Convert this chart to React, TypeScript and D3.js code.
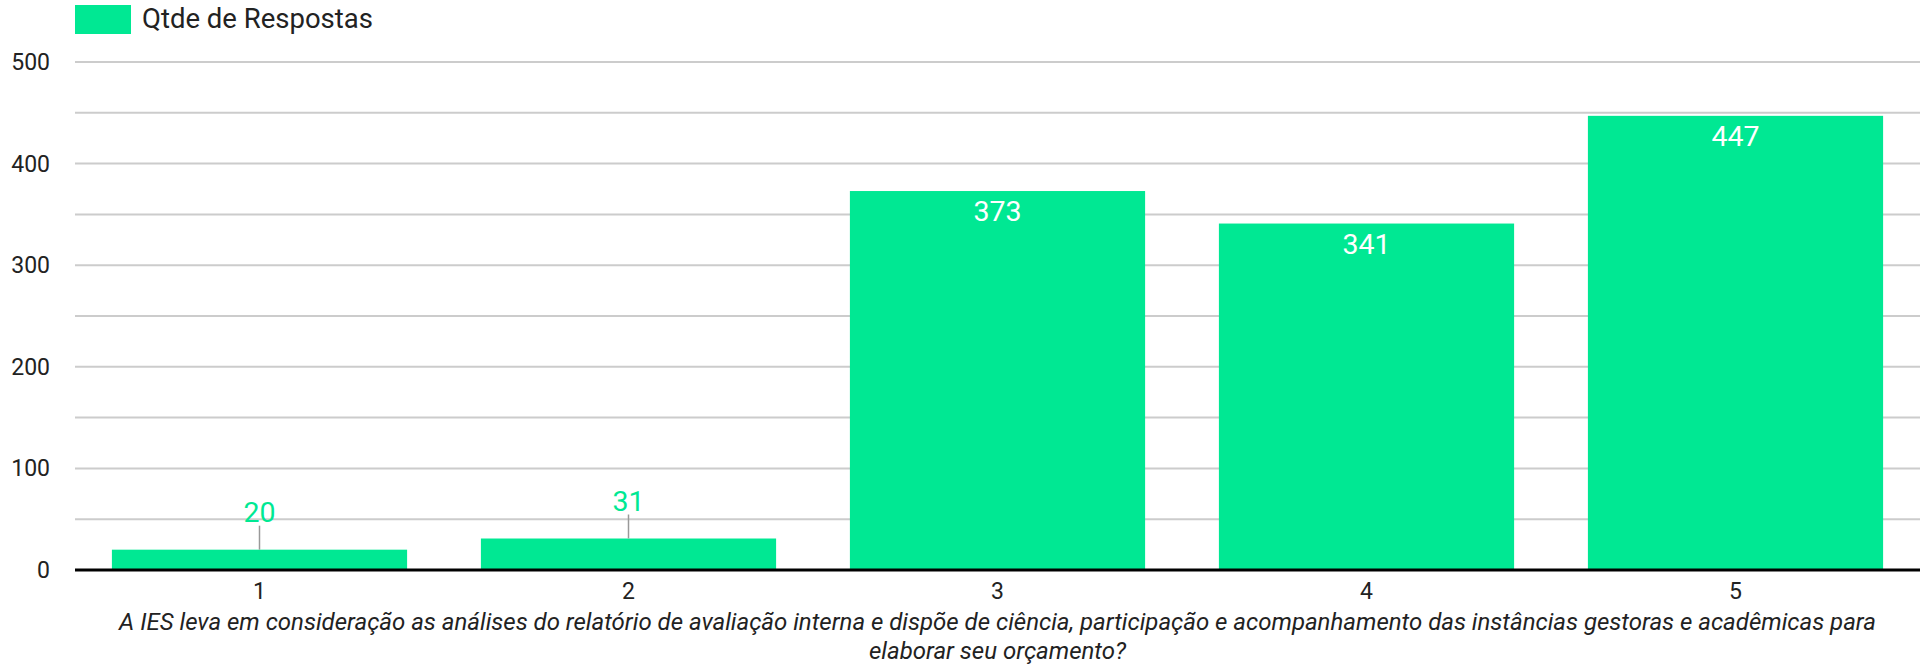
import React from "react";
import * as d3 from "d3";

const categories = ["1", "2", "3", "4", "5"];
const values = [20, 31, 373, 341, 447];
const seriesName = "Qtde de Respostas";
const yTicks = [0, 100, 200, 300, 400, 500];
const yGrid = [50, 100, 150, 200, 250, 300, 350, 400, 450, 500];
const xTitleLines = [
  "A IES leva em consideração as análises do relatório de avaliação interna e dispõe de ciência, participação e acompanhamento das instâncias gestoras e acadêmicas para",
  "elaborar seu orçamento?",
];

const W = 1921;
const H = 667;
const M = { left: 75, right: 1920, top: 62, bottom: 570 };
const GREEN = "#00E893";
const FONT = "Roboto, 'Noto Sans', sans-serif";

export default function App() {
  const x = d3
    .scaleBand<string>()
    .domain(categories)
    .range([M.left, M.right])
    .paddingInner(0.2)
    .paddingOuter(0.1);
  const y = d3.scaleLinear().domain([0, 500]).range([M.bottom, M.top]);
  const cx = (M.left + M.right) / 2;

  return (
    <svg
      width={W}
      height={H}
      style={{ position: "absolute", left: 0, top: 0, display: "block" }}
      fontFamily={FONT}
    >
      <rect x={0} y={0} width={W} height={H} fill="#fff" />
      {/* legend */}
      <rect x={75} y={5} width={56} height={29} fill={GREEN} />
      <text x={142} y={28} fontSize={27.5} fill="#222">
        {seriesName}
      </text>
      {/* grid */}
      {yGrid.map((v) => (
        <line
          key={v}
          x1={M.left}
          x2={M.right}
          y1={y(v)}
          y2={y(v)}
          stroke="#cccccc"
          strokeWidth={2}
        />
      ))}
      {/* y tick labels */}
      {yTicks.map((v) => (
        <text
          key={v}
          x={50}
          y={y(v) + 8}
          fontSize={23}
          textAnchor="end"
          fill="#222"
        >
          {v}
        </text>
      ))}
      {/* bars */}
      {categories.map((c, i) => {
        const v = values[i];
        const bx = x(c)!;
        const bw = x.bandwidth();
        const top = y(v);
        const inside = M.bottom - top > 45;
        const mid = bx + bw / 2;
        return (
          <g key={c}>
            <rect x={bx} y={top} width={bw} height={M.bottom - top} fill={GREEN} />
            {inside ? (
              <text x={mid} y={top + 30} fontSize={28.5} textAnchor="middle" fill="#fff">
                {v}
              </text>
            ) : (
              <g>
                <line x1={mid} x2={mid} y1={top - 24} y2={top} stroke="#999" strokeWidth={1.5} />
                <text x={mid} y={top - 28} fontSize={28.5} textAnchor="middle" fill={GREEN}>
                  {v}
                </text>
              </g>
            )}
          </g>
        );
      })}
      {/* baseline */}
      <line x1={M.left} x2={M.right} y1={M.bottom} y2={M.bottom} stroke="#000" strokeWidth={3} />
      {/* x tick labels */}
      {categories.map((c) => (
        <text
          key={c}
          x={x(c)! + x.bandwidth() / 2}
          y={599}
          fontSize={23}
          textAnchor="middle"
          fill="#222"
        >
          {c}
        </text>
      ))}
      {/* x title */}
      {xTitleLines.map((t, i) => (
        <text
          key={i}
          x={cx}
          y={630 + i * 29}
          fontSize={24}
          fontStyle="italic"
          textAnchor="middle"
          fill="#222"
        >
          {t}
        </text>
      ))}
    </svg>
  );
}
